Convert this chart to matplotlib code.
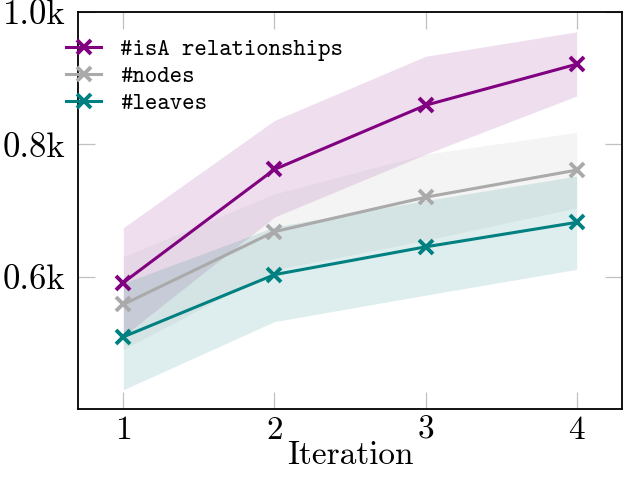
import matplotlib
import matplotlib.pyplot as plt
import numpy as np

matplotlib.use("Agg")

iterations = [1, 2, 3, 4]

isa_mean = [0.591, 0.762, 0.859, 0.921]
isa_low = [0.510, 0.690, 0.785, 0.873]
isa_high = [0.674, 0.836, 0.933, 0.970]

nodes_mean = [0.558, 0.668, 0.720, 0.761]
nodes_low = [0.490, 0.610, 0.655, 0.704]
nodes_high = [0.630, 0.725, 0.785, 0.818]

leaves_mean = [0.509, 0.603, 0.645, 0.682]
leaves_low = [0.429, 0.532, 0.572, 0.611]
leaves_high = [0.590, 0.675, 0.715, 0.752]

y_ticks = [0.6, 0.8, 1.0]
y_tick_labels = ["0.6k", "0.8k", "1.0k"]

series = [
    ("#isA relationships", isa_mean, isa_low, isa_high, "#800080"),
    ("#nodes", nodes_mean, nodes_low, nodes_high, "#aaaaaa"),
    ("#leaves", leaves_mean, leaves_low, leaves_high, "#008080"),
]

plt.rcParams["axes.formatter.use_mathtext"] = True

fig = plt.figure(figsize=(6.27, 4.78), dpi=100)
ax = fig.add_axes([0.1244, 0.1444, 0.8676, 0.8306])

for label, mean, low, high, color in series:
    ax.fill_between(iterations, low, high, color=color, alpha=0.13, linewidth=0)
for label, mean, low, high, color in series:
    ax.plot(iterations, mean, color=color, linewidth=2.2, marker="x",
            markersize=10, markeredgewidth=2.8, label=label)

ax.set_xlim(0.7, 4.3)
ax.set_ylim(0.4, 1.0)
ax.set_xticks(iterations)
ax.set_xticklabels([str(i) for i in iterations], family="cmr10", fontsize=24)
ax.set_yticks(y_ticks)
ax.set_yticklabels(y_tick_labels, family="cmr10", fontsize=25)
ax.tick_params(axis="both", direction="in", length=12, width=0.9, color="#c0c0c0",
               top=True, right=True, pad=9)
ax.tick_params(axis="x", pad=5)
ax.set_xlabel("Iteration", family="cmr10", fontsize=24, labelpad=-3)

for sp in ax.spines.values():
    sp.set_linewidth(1.3)

ax.legend(loc="upper left", bbox_to_anchor=(0.105, 0.92), bbox_transform=fig.transFigure,
          frameon=False, borderpad=0, borderaxespad=0, handlelength=1.5,
          handletextpad=0.8, labelspacing=0.2,
          prop={"family": "cmtt10", "size": 17})

fig.savefig("out.png", dpi=100)
